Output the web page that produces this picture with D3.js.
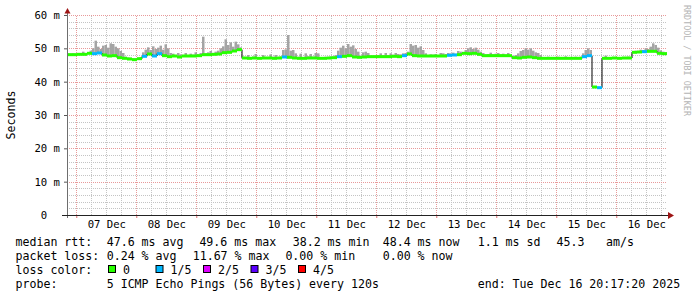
<!DOCTYPE html>
<html>
<head>
<meta charset="utf-8">
<script src="https://cdn.jsdelivr.net/npm/d3@7"></script>
<style>
body{margin:0;background:#fff;}
svg{display:block;font-family:"DejaVu Sans Mono",monospace;}
.grid .domain{display:none;}
.grid line{shape-rendering:crispEdges;stroke-dasharray:1,1;}
</style>
</head>
<body>
<div id="chart"></div>
<script>
// median rtt in ms, one value per 2 hours (from Dec 6 20:17:20)
var medianRtt = [
  48.1, 48.1, 48.2, 48.2, 48.5, 48.4, 48.6, 48.0, 47.7, 47.8,
  47.2, 47.0, 46.8, 46.6, 46.9, 47.6, 48.3, 47.7, 48.4, 47.8,
  47.5, 47.7, 47.4, 47.7, 47.7, 47.7, 47.8, 48.1, 48.1, 48.2,
  48.3, 48.7, 48.8, 49.2, 49.6, 47.1, 47.0, 47.1, 47.0, 47.1,
  47.1, 47.0, 47.1, 47.4, 47.3, 47.1, 47.0, 47.0, 47.1, 47.1,
  47.0, 47.0, 47.1, 47.2, 47.5, 47.6, 47.8, 47.4, 47.3, 47.4,
  47.5, 47.5, 47.5, 47.5, 47.5, 47.6, 47.5, 47.8, 48.3, 47.8,
  47.7, 47.7, 47.7, 47.7, 47.7, 47.7, 47.9, 48.0, 48.1, 48.5,
  48.4, 48.5, 48.2, 47.8, 47.8, 47.8, 47.8, 47.8, 47.8, 47.2,
  47.1, 47.3, 47.4, 47.2, 47.0, 47.0, 47.0, 47.0, 47.0, 47.0,
  47.0, 47.0, 47.0, 47.5, 47.8, 38.4, 38.2, 47.0, 47.0, 47.1,
  47.0, 47.1, 47.1, 48.8, 48.9, 49.0, 49.1, 49.1, 48.5, 48.4
];
// lost pings (out of 5) for each median value
var lostPings = [
  0,0,0,0,0,1,1,0,0,0,
  0,0,0,0,0,1,0,1,1,0,
  0,0,0,0,0,0,0,0,0,0,
  0,0,0,0,0,0,0,0,0,0,
  0,0,0,1,0,0,0,0,0,0,
  0,0,0,0,1,0,0,0,0,0,
  0,0,0,0,0,0,0,1,0,0,
  0,0,0,0,0,0,1,1,0,0,
  0,0,0,0,0,0,0,0,0,0,
  0,0,0,0,0,0,0,0,0,0,
  0,0,0,1,1,0,1,0,0,0,
  0,0,0,0,0,1,0,0,0,0
];
// top of the smoke (slowest ping) in ms, one value per hour
var smokeMax = [
  48.4, 48.4, 48.5, 48.4, 48.5, 48.6, 49.0, 48.6, 48.9, 49.3,
  50.0, 52.3, 50.5, 49.8, 50.8, 51.0, 50.2, 51.5, 51.3, 50.5,
  50.0, 49.2, 48.6, 47.5, 47.3, 47.2, 47.0, 47.0, 47.0, 47.4,
  48.8, 49.6, 50.3, 49.5, 50.6, 49.8, 50.2, 50.8, 49.6, 51.2,
  50.0, 48.6, 48.4, 48.0, 48.6, 48.2, 47.9, 48.6, 48.0, 48.4,
  48.1, 48.8, 48.2, 48.6, 53.5, 48.5, 48.8, 49.2, 48.6, 49.0,
  49.3, 50.0, 50.6, 52.7, 51.0, 51.8, 50.5, 52.0, 51.2, 50.3,
  47.5, 47.3, 48.0, 47.3, 47.5, 48.3, 47.3, 47.4, 48.0, 47.3,
  47.4, 48.2, 47.5, 48.0, 47.4, 47.6, 49.5, 49.7, 54.0, 49.3,
  49.5, 48.5, 47.5, 48.4, 47.4, 48.5, 47.6, 48.3, 47.5, 48.6,
  48.5, 47.4, 47.3, 47.5, 47.4, 47.6, 47.4, 48.0, 49.3, 50.2,
  50.8, 50.0, 51.3, 50.5, 50.9, 49.8, 49.0, 47.8, 48.8, 49.0,
  48.6, 47.8, 47.8, 47.9, 48.0, 48.5, 47.9, 48.6, 48.0, 48.5,
  48.1, 48.6, 48.3, 48.2, 48.5, 48.6, 49.0, 51.3, 50.8, 51.0,
  50.2, 50.6, 49.5, 48.5, 48.0, 48.2, 48.1, 48.3, 48.0, 48.6,
  48.5, 48.3, 48.6, 48.5, 48.7, 48.4, 49.2, 49.0, 48.8, 49.5,
  50.0, 50.3, 49.8, 50.2, 49.6, 49.0, 48.6, 48.2, 48.3, 48.7,
  48.2, 48.4, 48.6, 48.2, 48.4, 48.1, 48.6, 47.6, 47.5, 48.0,
  48.5, 49.2, 49.5, 50.0, 49.6, 50.0, 49.3, 48.8, 48.6, 48.0,
  47.4, 47.3, 47.5, 47.3, 47.4, 47.3, 47.5, 47.3, 47.3, 47.6,
  47.3, 47.4, 47.3, 47.5, 47.3, 47.5, 48.5, 49.5, 50.0, 49.5,
  38.6, 38.5, 38.4, 38.4, 47.3, 47.8, 47.3, 47.4, 47.3, 47.3,
  47.3, 47.4, 47.3, 47.3, 47.5, 47.3, 49.0, 49.3, 49.0, 49.6,
  49.5, 50.0, 49.8, 50.5, 51.5, 51.0, 50.2, 49.4, 49.0, 48.8
];
var lossLabels = ["0", "1/5", "2/5", "3/5", "4/5"];
var lossColors = ["#26ff00", "#00b8ff", "#dd00ff", "#5a00ff", "#ff0000"];
var yTicks = [0, 10, 20, 30, 40, 50, 60];
var rttStats = ["47.6 ms avg", "49.6 ms max", "38.2 ms min", "48.4 ms now", "1.1 ms sd", "45.3", "am/s"];
var lossStats = ["0.24 % avg", "11.67 % max", "0.00 % min", "0.00 % now"];
var probeText = "5 ICMP Echo Pings (56 Bytes) every 120s";
var endText = "end: Tue Dec 16 20:17:20 2025";

var width = 697, height = 297;
var pl = 67, pr = 667, pt = 15, pb = 215;
var t0 = new Date(Date.UTC(2025, 11, 6, 20, 17, 20)),
    t1 = new Date(Date.UTC(2025, 11, 16, 20, 17, 20));
var HOUR = 3600 * 1000;

var x = d3.scaleUtc().domain([t0, t1]).range([pl, pr]);
var y = d3.scaleLinear().domain([0, 60]).range([pb, pt]);

var svg = d3.select("#chart").append("svg")
    .attr("width", width)
    .attr("height", height);

svg.append("rect").attr("width", width).attr("height", height).attr("fill", "#fff");

// grid: minor first, major on top
var minorY = d3.range(2, 61, 2).filter(function(v){ return v % 10 !== 0; });
var minorX = d3.utcHour.every(6).range(t0, t1).filter(function(d){ return d.getUTCHours() !== 0; });
var days = d3.utcDay.range(t0, t1);

svg.append("g").attr("class", "grid")
    .attr("transform", "translate(" + pl + ",0)")
    .call(d3.axisLeft(y).tickValues(minorY).tickSize(-(pr - pl)).tickFormat(""))
    .selectAll("line").attr("stroke", "#c4c4c4");
svg.append("g").attr("class", "grid")
    .attr("transform", "translate(0," + pb + ")")
    .call(d3.axisBottom(x).tickValues(minorX).tickSize(-(pb - pt)).tickFormat(""))
    .selectAll("line").attr("stroke", "#c4c4c4");
svg.append("g").attr("class", "grid")
    .attr("transform", "translate(" + pl + ",0)")
    .call(d3.axisLeft(y).tickValues([10, 20, 30, 40, 50, 60]).tickSize(-(pr - pl)).tickFormat(""))
    .selectAll("line").attr("stroke", "#e89a9a");
svg.append("g").attr("class", "grid")
    .attr("transform", "translate(0," + pb + ")")
    .call(d3.axisBottom(x).tickValues(days).tickSize(-(pb - pt)).tickFormat(""))
    .selectAll("line").attr("stroke", "#e89a9a");

// smoke
svg.append("g").selectAll("rect")
    .data(smokeMax)
    .enter().append("rect")
    .attr("x", function(d, h){ return x(new Date(+t0 + h * HOUR)); })
    .attr("width", function(d, h){ return x(new Date(+t0 + (h + 1) * HOUR)) - x(new Date(+t0 + h * HOUR)); })
    .attr("y", function(d){ return y(d); })
    .attr("height", function(d, h){ return Math.max(0, y(medianRtt[Math.floor(h / 2)]) - y(d)); })
    .attr("fill", "#a4a4a4");

// median: thin black connecting line, then loss-coloured steps
var pts = medianRtt.map(function(v, i){ return [new Date(+t0 + i * 2 * HOUR), v]; });
pts.push([t1, medianRtt[medianRtt.length - 1]]);
var line = d3.line()
    .x(function(d){ return x(d[0]); })
    .y(function(d){ return y(d[1]); })
    .curve(d3.curveStepAfter);
svg.append("path")
    .datum(pts)
    .attr("d", line)
    .attr("fill", "none")
    .attr("stroke", "#000")
    .attr("stroke-width", 1);

svg.append("g").selectAll("line")
    .data(medianRtt)
    .enter().append("line")
    .attr("x1", function(d, i){ return x(new Date(+t0 + i * 2 * HOUR)); })
    .attr("x2", function(d, i){ return x(new Date(+t0 + (i + 1) * 2 * HOUR)); })
    .attr("y1", function(d){ return y(d); })
    .attr("y2", function(d){ return y(d); })
    .attr("stroke", function(d, i){ return lossColors[lostPings[i]]; })
    .attr("stroke-width", 3);

// axes
var yAxis = svg.append("g")
    .attr("transform", "translate(" + pl + ",0)")
    .call(d3.axisLeft(y).tickValues(yTicks).tickSize(3)
        .tickFormat(function(d){ return d === 0 ? "0\u00a0\u00a0" : d + " m"; }));
yAxis.select(".domain").remove();
yAxis.selectAll("line").attr("stroke", "#555");
yAxis.selectAll("text").attr("x", -7).attr("fill", "#000")
    .style("font-family", "DejaVu Sans Mono").style("font-size", "10.6px");

var xAxis = svg.append("g")
    .attr("transform", "translate(0," + pb + ")")
    .call(d3.axisBottom(x).tickValues(days.map(function(d){ return d3.utcHour.offset(d, 12); }))
        .tickSize(0).tickFormat(d3.utcFormat("%d %b")));
xAxis.select(".domain").remove();
xAxis.selectAll("text").attr("y", 13).attr("dy", 0).attr("fill", "#000")
    .style("font-family", "DejaVu Sans Mono").style("font-size", "10.6px");

var xTicks = svg.append("g")
    .attr("transform", "translate(0," + pb + ")")
    .call(d3.axisBottom(x).tickValues(days).tickSize(3).tickFormat(""));
xTicks.select(".domain").remove();
xTicks.selectAll("line").attr("stroke", "#e07070");

svg.append("line").attr("x1", pl + 0.5).attr("x2", pl + 0.5).attr("y1", 12).attr("y2", pb + 3)
    .attr("stroke", "#6e6e6e");
svg.append("line").attr("x1", pl - 5).attr("x2", pr + 2).attr("y1", pb + 0.5).attr("y2", pb + 0.5)
    .attr("stroke", "#222");
svg.append("path").attr("d", "M64.5,13.5L70.5,13.5L67.5,8Z").attr("fill", "#9e1414");
svg.append("path").attr("d", "M668,212L668,219L674,215.5Z").attr("fill", "#9e1414");

// axis titles
svg.append("text")
    .attr("transform", "translate(14.5,115) rotate(-90)")
    .attr("text-anchor", "middle")
    .style("font-size", "11.6px")
    .text("Seconds");
svg.append("text")
    .attr("transform", "translate(684,5) rotate(90)")
    .attr("fill", "#b4b4b4")
    .style("font-size", "8.4px")
    .text("RRDTOOL / TOBI OETIKER");

// legend
var lg = svg.append("g").style("font-size", "11.6px").attr("fill", "#000");
var rows = [245.5, 259.7, 273.9, 288.1];
var rttX = [106.7, 199.4, 292.7, 382.7, 477.7, 556.5, 606];
var lossX = [106.7, 192.7, 285.4, 382.7];
lg.append("text").attr("x", 15.5).attr("y", rows[0]).text("median rtt:");
rttStats.forEach(function(s, i){ lg.append("text").attr("x", rttX[i]).attr("y", rows[0]).text(s); });
lg.append("text").attr("x", 15.5).attr("y", rows[1]).text("packet loss:");
lossStats.forEach(function(s, i){ lg.append("text").attr("x", lossX[i]).attr("y", rows[1]).text(s); });
lg.append("text").attr("x", 15.5).attr("y", rows[2]).text("loss color:");
lossLabels.forEach(function(s, i){
  var bx = 108.5 + i * 47.5;
  lg.append("rect").attr("x", bx).attr("y", 265.5).attr("width", 7).attr("height", 7)
    .attr("fill", lossColors[i]).attr("stroke", "#000").attr("stroke-width", 1);
  lg.append("text").attr("x", bx + 14.5).attr("y", rows[2]).text(s);
});
lg.append("text").attr("x", 15.5).attr("y", rows[3]).text("probe:");
lg.append("text").attr("x", 106.7).attr("y", rows[3]).text(probeText);
lg.append("text").attr("x", 477.7).attr("y", rows[3]).text(endText);
</script>
</body>
</html>
